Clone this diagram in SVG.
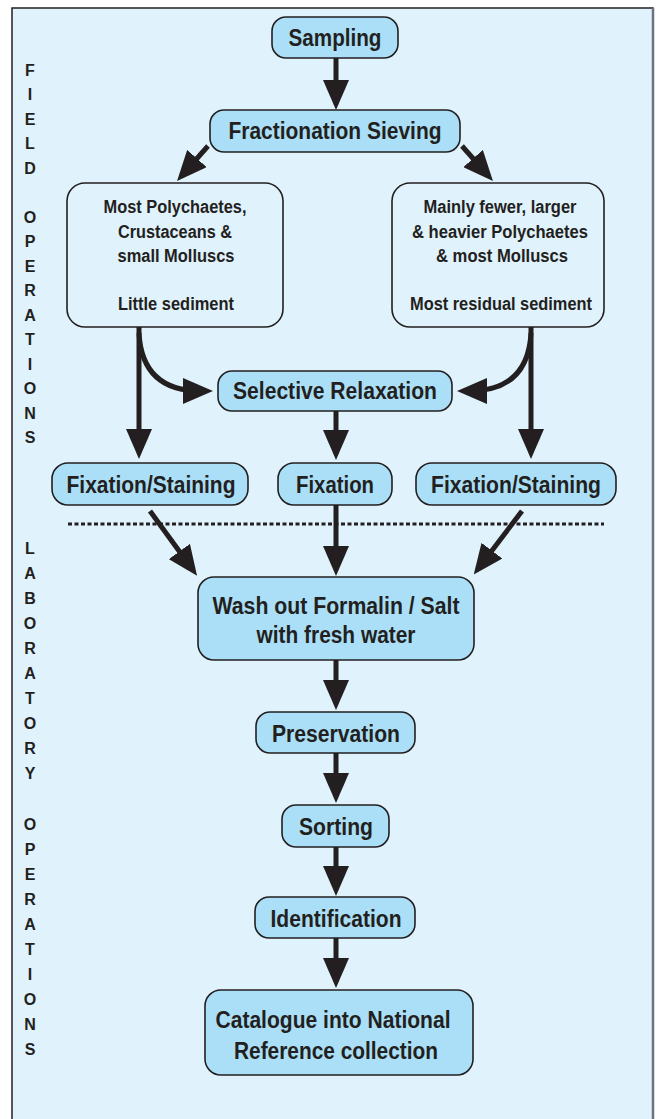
<svg xmlns="http://www.w3.org/2000/svg" width="660" height="1119" viewBox="0 0 660 1119">
<style>
.bg{fill:#e0f2fc}
.n{fill:#aadff7;stroke:#231f20;stroke-width:1.6}
.d{fill:none;stroke:#231f20;stroke-width:1.6}
.t{font-family:"Liberation Sans",Arial,sans-serif;font-weight:bold;fill:#231f20;text-anchor:middle}
.L{font-size:23px}
.S{font-size:18px}
.side{font-family:"Liberation Sans",Arial,sans-serif;font-weight:bold;font-size:16px;fill:#231f20;text-anchor:middle}
.a{fill:none;stroke:#231f20;stroke-width:5}
</style>
<defs>
<marker id="ah" viewBox="0 0 30 26" refX="18" refY="13" markerWidth="30" markerHeight="26" markerUnits="userSpaceOnUse" orient="auto">
<path d="M0,0 L30,13 L0,26 z" fill="#231f20"/>
</marker>
</defs>
<rect x="0" y="0" width="660" height="1119" fill="#ffffff"/>
<rect class="bg" x="12" y="8" width="641" height="1115"/>
<path d="M12,1119 V8 H653 V1119" fill="none" stroke="#231f20" stroke-width="1.5"/>
<line x1="653" y1="8" x2="653" y2="1119" stroke="#6b7280" stroke-width="2.5"/>

<g id="side-field" class="side">
<text x="30" y="76">F</text><text x="30" y="100">I</text><text x="30" y="125">E</text><text x="30" y="149">L</text><text x="30" y="174">D</text>
<text x="30" y="223">O</text><text x="30" y="247">P</text><text x="30" y="272">E</text><text x="30" y="296">R</text><text x="30" y="321">A</text><text x="30" y="345">T</text><text x="30" y="370">I</text><text x="30" y="394">O</text><text x="30" y="419">N</text><text x="30" y="443">S</text>
</g>
<g id="side-lab" class="side">
<text x="30" y="554">L</text><text x="30" y="579">A</text><text x="30" y="604">B</text><text x="30" y="629">O</text><text x="30" y="654">R</text><text x="30" y="679">A</text><text x="30" y="704">T</text><text x="30" y="729">O</text><text x="30" y="754">R</text><text x="30" y="779">Y</text>
<text x="30" y="830">O</text><text x="30" y="855">P</text><text x="30" y="880">E</text><text x="30" y="905">R</text><text x="30" y="930">A</text><text x="30" y="955">T</text><text x="30" y="980">I</text><text x="30" y="1005">O</text><text x="30" y="1030">N</text><text x="30" y="1055">S</text>
</g>

<line id="divider" x1="68" y1="524" x2="604" y2="524" stroke="#231f20" stroke-width="3" stroke-dasharray="4 2.5"/>

<g id="connectors">
<line class="a" x1="336" y1="58" x2="336" y2="98" marker-end="url(#ah)"/>
<line class="a" x1="208" y1="146" x2="185" y2="172" marker-end="url(#ah)"/>
<line class="a" x1="462" y1="146" x2="485" y2="172" marker-end="url(#ah)"/>
<line class="a" x1="139" y1="327" x2="139" y2="447" marker-end="url(#ah)"/>
<path class="a" d="M139,333 Q142,391 201,391" marker-end="url(#ah)"/>
<line class="a" x1="531" y1="327" x2="531" y2="447" marker-end="url(#ah)"/>
<path class="a" d="M531,333 Q528,391 469,391" marker-end="url(#ah)"/>
<line class="a" x1="336" y1="411" x2="336" y2="448" marker-end="url(#ah)"/>
<line class="a" x1="150" y1="511" x2="190" y2="566" marker-end="url(#ah)"/>
<line class="a" x1="336" y1="505" x2="336" y2="564" marker-end="url(#ah)"/>
<line class="a" x1="522" y1="511" x2="481" y2="565" marker-end="url(#ah)"/>
<line class="a" x1="336" y1="660" x2="336" y2="698" marker-end="url(#ah)"/>
<line class="a" x1="336" y1="753" x2="336" y2="791" marker-end="url(#ah)"/>
<line class="a" x1="336" y1="847" x2="336" y2="884" marker-end="url(#ah)"/>
<line class="a" x1="336" y1="938" x2="336" y2="976" marker-end="url(#ah)"/>
</g>

<g id="sampling"><rect class="n" x="272" y="17" width="126" height="41" rx="14"/><text class="t L" x="335" y="46" textLength="93" lengthAdjust="spacingAndGlyphs">Sampling</text></g>
<g id="fractionation"><rect class="n" x="210" y="110" width="250" height="42" rx="14"/><text class="t L" x="335" y="139" textLength="213" lengthAdjust="spacingAndGlyphs">Fractionation Sieving</text></g>
<g id="fine-fraction"><rect class="d" x="67" y="183" width="216" height="144" rx="18"/>
<text class="t S" x="175" y="213" textLength="143" lengthAdjust="spacingAndGlyphs">Most Polychaetes,</text><text class="t S" x="175" y="238" textLength="114" lengthAdjust="spacingAndGlyphs">Crustaceans &amp;</text><text class="t S" x="176" y="262" textLength="117" lengthAdjust="spacingAndGlyphs">small Molluscs</text><text class="t S" x="176" y="310" textLength="116" lengthAdjust="spacingAndGlyphs">Little sediment</text></g>
<g id="coarse-fraction"><rect class="d" x="392" y="183" width="212" height="144" rx="18"/>
<text class="t S" x="500" y="213" textLength="153" lengthAdjust="spacingAndGlyphs">Mainly fewer, larger</text><text class="t S" x="500" y="238" textLength="176" lengthAdjust="spacingAndGlyphs">&amp; heavier Polychaetes</text><text class="t S" x="502" y="262" textLength="132" lengthAdjust="spacingAndGlyphs">&amp; most Molluscs</text><text class="t S" x="501" y="310" textLength="182" lengthAdjust="spacingAndGlyphs">Most residual sediment</text></g>
<g id="relaxation"><rect class="n" x="218" y="371" width="234" height="40" rx="14"/><text class="t L" x="335" y="399" textLength="204" lengthAdjust="spacingAndGlyphs">Selective Relaxation</text></g>
<g id="fix-stain-left"><rect class="n" x="52" y="463" width="196" height="42" rx="16"/><text class="t L" x="151" y="493" textLength="169" lengthAdjust="spacingAndGlyphs">Fixation/Staining</text></g>
<g id="fixation"><rect class="n" x="278" y="463" width="114" height="42" rx="16"/><text class="t L" x="335" y="493" textLength="78" lengthAdjust="spacingAndGlyphs">Fixation</text></g>
<g id="fix-stain-right"><rect class="n" x="416" y="463" width="200" height="42" rx="16"/><text class="t L" x="516" y="493" textLength="170" lengthAdjust="spacingAndGlyphs">Fixation/Staining</text></g>
<g id="washout"><rect class="n" x="198" y="577" width="276" height="83" rx="16"/><text class="t L" x="336" y="614" textLength="247" lengthAdjust="spacingAndGlyphs">Wash out Formalin / Salt</text><text class="t L" x="336" y="643" textLength="159" lengthAdjust="spacingAndGlyphs">with fresh water</text></g>
<g id="preservation"><rect class="n" x="256" y="712" width="159" height="41" rx="14"/><text class="t L" x="336" y="742" textLength="128" lengthAdjust="spacingAndGlyphs">Preservation</text></g>
<g id="sorting"><rect class="n" x="282" y="805" width="107" height="42" rx="14"/><text class="t L" x="336" y="835" textLength="74" lengthAdjust="spacingAndGlyphs">Sorting</text></g>
<g id="identification"><rect class="n" x="255" y="897" width="160" height="41" rx="14"/><text class="t L" x="336" y="927" textLength="131" lengthAdjust="spacingAndGlyphs">Identification</text></g>
<g id="catalogue"><rect class="n" x="205" y="990" width="268" height="85" rx="16"/><text class="t L" x="333" y="1028" textLength="235" lengthAdjust="spacingAndGlyphs">Catalogue into National</text><text class="t L" x="336" y="1059" textLength="204" lengthAdjust="spacingAndGlyphs">Reference collection</text></g>
</svg>
